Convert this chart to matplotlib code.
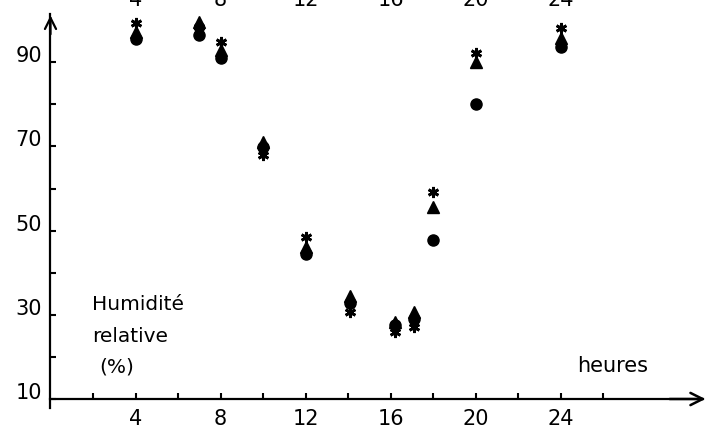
import numpy as np
import matplotlib
matplotlib.use("Agg")
import matplotlib.pyplot as plt
from matplotlib.transforms import blended_transform_factory

# hours of the measurements
heures = [4, 7, 8, 10, 12, 14.1, 16.2, 17.1, 18, 20, 24]

# relative humidity (%) for the three series
hum_rond = [95.5, 96.5, 91.0, 69.9, 44.4, 32.8, 27.5, 29.0, 47.8, 80.0, 93.6]
hum_triangle = [97.2, 99.5, 92.9, 71.0, 46.1, 34.5, 28.3, 30.7, 55.6, 90.0, 95.7]
hum_etoile = [99.3, 98.4, 94.8, 68.0, 48.5, 30.7, 25.9, 27.1, 59.2, 92.2, 98.1]

# axis ticks
x_major = [4, 8, 12, 16, 20, 24]
x_minor = [2, 6, 10, 14, 18, 22, 26]
y_major = [10, 30, 50, 70, 90]
y_minor = [20, 40, 60, 80]

# y-axis title, one line each
titre_lignes = ["Humidité", "relative", "(%)"]

# labels of the axis above (cut off in the scan)
top_labels = ["4", "8", "12", "16", "20", "24"]

plt.rcParams['font.family'] = ['DejaVu Sans']

fig = plt.figure(figsize=(7.11, 4.36), dpi=100)
ax = fig.add_axes([0, 0, 1, 1])
ax.set_xlim(-2.376, 31.08)
ax.set_ylim(1.21, 104.8)

# points
ax.plot(heures, hum_rond, 'o', color='black', markersize=8, zorder=3)
ax.plot(heures, hum_triangle, '^', color='black', markersize=8, zorder=3)
ax.plot(heures, hum_etoile, marker=(6, 2, 0), linestyle='none', color='black',
        markersize=8, markeredgewidth=2, zorder=3)

# axes crossing at (0, 10)
ax.spines['top'].set_visible(False)
ax.spines['right'].set_visible(False)
ax.spines['left'].set_position(('data', 0))
ax.spines['bottom'].set_position(('data', 10))
ax.spines['left'].set_bounds(7.9, 101.5)
ax.spines['bottom'].set_bounds(0, 30.7)
ax.spines['left'].set_linewidth(1.6)
ax.spines['bottom'].set_linewidth(1.6)

# arrows
ax.annotate('', xy=(30.95, 10), xytext=(29, 10),
            arrowprops=dict(arrowstyle='->', lw=1.8, color='black', mutation_scale=22))
ax.annotate('', xy=(0, 101.8), xytext=(0, 96),
            arrowprops=dict(arrowstyle='->', lw=1.6, color='black', mutation_scale=20))

ax.set_xticks(x_major)
ax.set_xticklabels([str(v) for v in x_major])
ax.set_xticks(x_minor, minor=True)
ax.set_yticks(y_major)
ax.set_yticklabels([str(v) for v in y_major])
ax.set_yticks(y_minor, minor=True)
ax.tick_params(which='both', direction='in', length=4, width=1.5, labelsize=15)
ax.tick_params(axis='x', pad=7)
ax.tick_params(axis='y', pad=6)
for lbl in ax.get_yticklabels():
    lbl.set_va('baseline')

# text in the plot
ax.text(1.95, 31.1, titre_lignes[0], fontsize=14.5, ha='left', va='baseline')
ax.text(1.95, 23.5, titre_lignes[1], fontsize=14.5, ha='left', va='baseline')
ax.text(2.3, 16.4, titre_lignes[2], fontsize=14.5, ha='left', va='baseline')
ax.text(24.8, 16.4, "heures", fontsize=15, ha='left', va='baseline')

# cut-off labels of the upper graph
trans = blended_transform_factory(ax.transData, fig.transFigure)
for h, t in zip(x_major, top_labels):
    ax.text(h, 1 - 6 / 436, t, transform=trans, fontsize=15, ha='center',
            va='baseline', clip_on=False)

fig.savefig("out.png", dpi=100)
